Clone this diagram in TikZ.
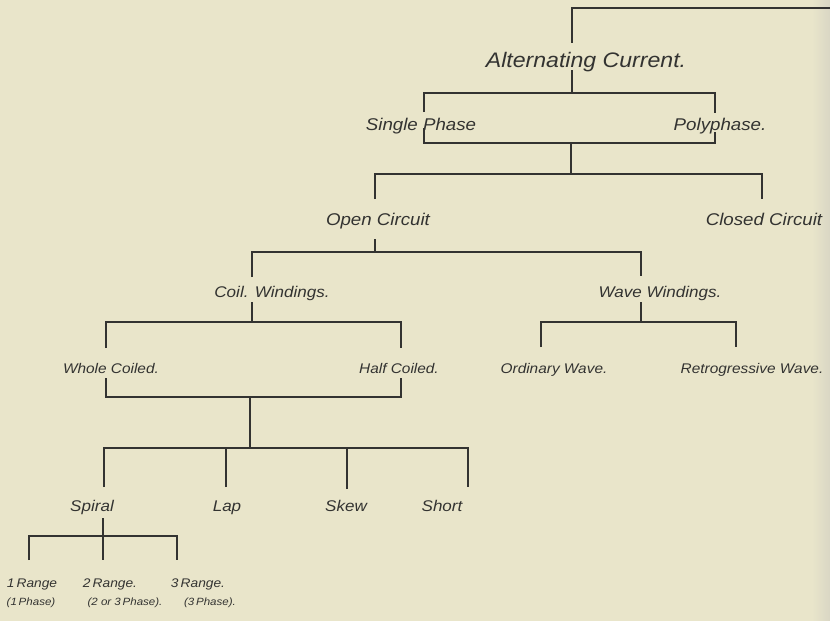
\documentclass[tikz,border=0pt]{standalone}
\usepackage{fontspec}
\setmainfont{Liberation Sans}[FakeStretch=1.1]
\definecolor{paper}{HTML}{E9E5CA}
\definecolor{paperedge}{HTML}{D9D6C4}
\definecolor{ink}{HTML}{333331}
\begin{document}
\begin{tikzpicture}[x=1pt,y=-1pt,
  link/.style={draw=ink, line width=1.5pt, line join=miter},
  lab/.style={inner sep=0pt, anchor=base, text=ink, font=\itshape\fontsize{17}{19}\selectfont},
  titlelab/.style={lab, font=\itshape\fontsize{21}{23}\selectfont},
  sublab/.style={lab, font=\itshape\fontsize{15.5}{17}\selectfont},
  leaflab/.style={lab, font=\itshape\fontsize{14}{16}\selectfont},
  rangelab/.style={lab, font=\itshape\fontsize{12.5}{14}\selectfont},
  phaselab/.style={lab, font=\itshape\fontsize{10.5}{12}\selectfont}]

% paper
\fill[paper] (0,0) rectangle (830,621);
\shade[left color=paper, right color=paperedge] (812,0) rectangle (830,621);
\useasboundingbox (0,0) rectangle (830,621);

% labels
\node[titlelab] (alt)    at (586,67)  {Alternating Current.};
\node[lab]      (single) at (421,130) {Single Phase};
\node[lab]      (poly)   at (720,130) {Polyphase.};
\node[lab]      (open)   at (378,225) {Open Circuit};
\node[lab]      (closed) at (764,225) {Closed Circuit};
\node[sublab]   (coil)   at (272,297) {Coil. Windings.};
\node[sublab]   (wave)   at (660,297) {Wave Windings.};
\node[leaflab]  (whole)  at (111,373) {Whole Coiled.};
\node[leaflab]  (half)   at (399,373) {Half Coiled.};
\node[leaflab]  (ord)    at (554,373) {Ordinary Wave.};
\node[leaflab]  (retro)  at (752,373) {Retrogressive Wave.};
\node[sublab]   (spiral) at (92,511)  {Spiral};
\node[sublab]   (lap)    at (227,511) {Lap};
\node[sublab]   (skew)   at (346,511) {Skew};
\node[sublab]   (short)  at (442,511) {Short};
\node[rangelab] (r1) at (32,587)  {1\,Range};
\node[rangelab] (r2) at (110,587) {2\,Range.};
\node[rangelab] (r3) at (198,587) {3\,Range.};
\node[phaselab] (p1) at (31,605)  {(1\,Phase)};
\node[phaselab] (p2) at (125,605) {(2 or 3\,Phase).};
\node[phaselab] (p3) at (210,605) {(3\,Phase).};

% junction points of the tree
\coordinate (rootEnd)  at (830,8);
\coordinate (altIn)    at (572,43);
\coordinate (altOut)   at (572,70);
\coordinate (phaseBar) at (572,93);
\coordinate (singleIn) at (424,112);
\coordinate (polyIn)   at (715,113);
\coordinate (singleOut) at (424,128);
\coordinate (polyOut)  at (715,132);
\coordinate (phaseJoin) at (571,143);
\coordinate (circBar)  at (571,174);
\coordinate (openIn)   at (375,199);
\coordinate (closedIn) at (762,199);
\coordinate (openOut)  at (375,239);
\coordinate (windBar)  at (375,252);
\coordinate (coilIn)   at (252,277);
\coordinate (waveIn)   at (641,276);
\coordinate (coilOut)  at (252,302);
\coordinate (coilBar)  at (252,322);
\coordinate (wholeIn)  at (106,348);
\coordinate (halfIn)   at (401,348);
\coordinate (wholeOut) at (106,378);
\coordinate (halfOut)  at (401,378);
\coordinate (coiledJoin) at (250,397);
\coordinate (kindBar)  at (250,448);
\coordinate (spiralIn) at (104,487);
\coordinate (lapIn)    at (226,487);
\coordinate (skewIn)   at (347,489);
\coordinate (shortIn)  at (468,487);
\coordinate (waveOut)  at (641,302);
\coordinate (waveBar)  at (641,322);
\coordinate (ordIn)    at (541,347);
\coordinate (retroIn)  at (736,347);
\coordinate (spiralOut) at (103,518);
\coordinate (rangeBar) at (103,536);
\coordinate (r1In)     at (29,560);
\coordinate (r2In)     at (103,560);
\coordinate (r3In)     at (177,560);

% connectors
\draw[link] (rootEnd) -| (altIn);
\draw[link] (altOut) -- (phaseBar);
\draw[link] (singleIn) |- (phaseBar) -| (polyIn);
\draw[link] (singleOut) |- (phaseJoin) -| (polyOut);
\draw[link] (phaseJoin) -- (circBar);
\draw[link] (openIn) |- (circBar) -| (closedIn);
\draw[link] (openOut) -- (windBar);
\draw[link] (coilIn) |- (windBar) -| (waveIn);
\draw[link] (coilOut) -- (coilBar);
\draw[link] (wholeIn) |- (coilBar) -| (halfIn);
\draw[link] (wholeOut) |- (coiledJoin) -| (halfOut);
\draw[link] (coiledJoin) -- (kindBar);
\draw[link] (spiralIn) |- (kindBar) -| (shortIn);
\draw[link] (lapIn) -- (lapIn |- kindBar);
\draw[link] (skewIn) -- (skewIn |- kindBar);
\draw[link] (waveOut) -- (waveBar);
\draw[link] (ordIn) |- (waveBar) -| (retroIn);
\draw[link] (spiralOut) -- (r2In);
\draw[link] (r1In) |- (rangeBar) -| (r3In);
\end{tikzpicture}
\end{document}
